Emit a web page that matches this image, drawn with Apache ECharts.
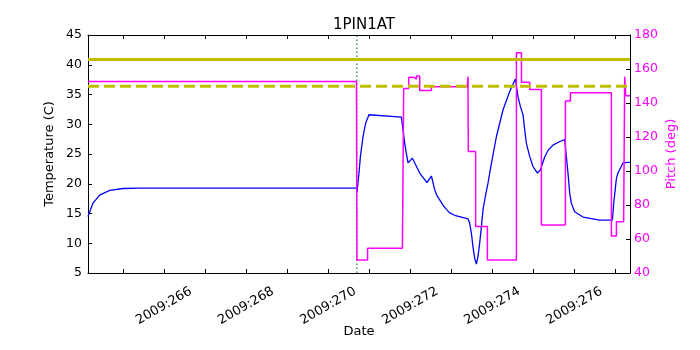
<!DOCTYPE html>
<html><head><meta charset="utf-8">
<script src="https://cdn.jsdelivr.net/npm/echarts@6/dist/echarts.min.js"></script>
<style>html,body{margin:0;padding:0;background:#fff}#c{width:700px;height:350px}</style>
</head><body><div id="c"></div>
<script>
// Temperature (C) samples, x in day-of-year 2009
const tempDays = [264.148, 264.270, 264.433, 264.677, 264.999, 265.408, 270.688, 270.703, 270.751, 270.786, 270.849, 270.914, 270.995, 271.785, 271.865, 271.946, 272.053, 272.231, 272.408, 272.516, 272.596, 272.652, 272.718, 272.798, 272.881, 272.961, 273.083, 273.247, 273.407, 273.448, 273.490, 273.529, 273.570, 273.612, 273.651, 273.692, 273.734, 273.773, 273.831, 273.895, 273.977, 274.099, 274.260, 274.423, 274.562, 274.626, 274.684, 274.748, 274.789, 274.830, 274.911, 274.991, 275.098, 275.171, 275.276, 275.357, 275.478, 275.642, 275.764, 275.805, 275.844, 275.886, 275.927, 276.007, 276.209, 276.616, 276.926, 276.958, 277.024, 277.062, 277.184, 277.306, 277.355];
const tempVals = [14.5, 16.75, 18.1, 18.9, 19.2, 19.27, 19.27, 18.6, 21.8, 24.6, 27.9, 30.2, 31.6, 31.2, 26.8, 23.5, 24.3, 21.8, 20.2, 21.3, 19.0, 18.0, 17.3, 16.4, 15.7, 15.1, 14.7, 14.4, 14.1, 13.4, 11.7, 9.4, 7.5, 6.5, 7.8, 10.0, 12.8, 15.6, 17.9, 20.1, 23.4, 27.9, 32.4, 35.5, 37.6, 34.6, 33.0, 31.6, 29.1, 26.8, 24.6, 22.9, 21.8, 22.3, 24.5, 25.6, 26.5, 27.1, 27.4, 24.5, 21.8, 18.4, 16.7, 15.3, 14.4, 13.9, 13.9, 16.7, 20.9, 21.8, 23.5, 23.6, 23.6];
// Pitch (deg) samples
const pitchDays = [264.148, 270.690, 270.700, 270.961, 270.961, 271.809, 271.841, 271.963, 271.963, 272.085, 272.085, 272.150, 272.150, 272.231, 272.231, 272.516, 272.516, 273.390, 273.407, 273.415, 273.594, 273.594, 273.880, 273.880, 274.587, 274.587, 274.710, 274.710, 274.911, 274.911, 275.196, 275.196, 275.781, 275.781, 275.903, 275.903, 276.902, 276.902, 277.024, 277.024, 277.200, 277.226, 277.250, 277.355];
const pitchVals = [152.6, 152.6, 47.6, 47.6, 54.5, 54.5, 148.6, 148.6, 155.1, 155.1, 154.1, 154.1, 155.9, 155.9, 147.3, 147.3, 149.6, 149.6, 155.5, 111.4, 111.4, 67.3, 67.3, 47.6, 47.6, 169.6, 169.6, 152.2, 152.2, 148.0, 148.0, 68.2, 68.2, 141.2, 141.2, 146.1, 146.1, 61.8, 61.8, 70.1, 70.1, 155.5, 144.3, 144.3];
const xTickDays = [265, 266, 267, 268, 269, 270, 271, 272, 273, 274, 275, 276, 277];
const xLabelDays = [266, 268, 270, 272, 274, 276];
const tempLimitHigh = 40.9;
const tempLimitLow = 36.4;
const eventDay = 270.70;
const xMin = 264.148, xMax = 277.355;

const F = 'DejaVu Sans';
const zip = (a, b) => a.map((v, i) => [v, b[i]]);
const chart = echarts.init(document.getElementById('c'), null, {renderer: 'canvas'});
const axLine = {show: true, lineStyle: {color: '#000', width: 1}};
chart.setOption({
  animation: false,
  backgroundColor: '#fff',
  title: {text: '1PIN1AT', left: 359, top: 13, textAlign: 'center',
    textStyle: {fontFamily: F, fontSize: 15, fontWeight: 'normal', color: '#000'}},
  grid: {left: 88, top: 35, right: 70, bottom: 77, containLabel: false, outerBoundsMode: 'none'},
  xAxis: [{
    type: 'value', min: xMin, max: xMax, position: 'bottom',
    name: 'Date', nameLocation: 'middle', nameGap: 52, nameMoveOverlap: false,
    nameTextStyle: {fontFamily: F, fontSize: 13, color: '#000'},
    axisLine: axLine, splitLine: {show: false},
    axisTick: {show: true, inside: true, length: 4, customValues: xTickDays, lineStyle: {color: '#000'}},
    axisLabel: {show: true, customValues: xLabelDays, rotate: 30, align: 'center', verticalAlign: 'middle', margin: 33,
      fontFamily: F, fontSize: 13, color: '#000', formatter: v => '2009:' + v}
  }, {
    type: 'value', min: xMin, max: xMax, position: 'top',
    axisLine: axLine, splitLine: {show: false},
    axisTick: {show: true, inside: true, length: 4, customValues: xTickDays, lineStyle: {color: '#000'}},
    axisLabel: {show: false}
  }],
  yAxis: [{
    type: 'value', min: 5, max: 45, interval: 5, position: 'left',
    name: 'Temperature (C)', nameLocation: 'middle', nameGap: 32, nameMoveOverlap: false,
    nameTextStyle: {fontFamily: F, fontSize: 13, color: '#000'},
    axisLine: axLine, splitLine: {show: false},
    axisTick: {show: true, inside: true, length: 4, lineStyle: {color: '#000'}},
    axisLabel: {fontFamily: F, fontSize: 12.5, color: '#000', margin: 6}
  }, {
    type: 'value', min: 40, max: 180, interval: 20, position: 'right',
    name: 'Pitch (deg)', nameLocation: 'middle', nameGap: 35, nameMoveOverlap: false,
    nameTextStyle: {fontFamily: F, fontSize: 13, color: '#ff00ff'},
    axisLine: axLine, splitLine: {show: false},
    axisTick: {show: true, inside: true, length: 4, lineStyle: {color: '#000'}},
    axisLabel: {fontFamily: F, fontSize: 12.5, color: '#ff00ff', margin: 4}
  }],
  series: [{
    type: 'line', name: 'event', xAxisIndex: 0, yAxisIndex: 0, z: 1, symbol: 'none',
    data: [[eventDay, 5], [eventDay, 45]],
    lineStyle: {color: '#006400', width: 1, type: [1.5, 2.5]}
  }, {
    type: 'line', name: 'temp', xAxisIndex: 0, yAxisIndex: 0, z: 2, symbol: 'none',
    data: zip(tempDays, tempVals), lineStyle: {color: '#0000ff', width: 1.3}
  }, {
    type: 'line', name: 'pitch', xAxisIndex: 0, yAxisIndex: 1, z: 3, symbol: 'none',
    data: zip(pitchDays, pitchVals), lineStyle: {color: '#ff00ff', width: 1.5}
  }, {
    type: 'line', name: 'high', xAxisIndex: 0, yAxisIndex: 0, z: 4, symbol: 'none',
    data: [[xMin, tempLimitHigh], [xMax, tempLimitHigh]], lineStyle: {color: '#bfbf00', width: 3}
  }, {
    type: 'line', name: 'low', xAxisIndex: 0, yAxisIndex: 0, z: 4, symbol: 'none',
    data: [[xMin, tempLimitLow], [xMax, tempLimitLow]], lineStyle: {color: '#bfbf00', width: 3, type: [11, 5]}
  }]
});
</script>
</body></html>
